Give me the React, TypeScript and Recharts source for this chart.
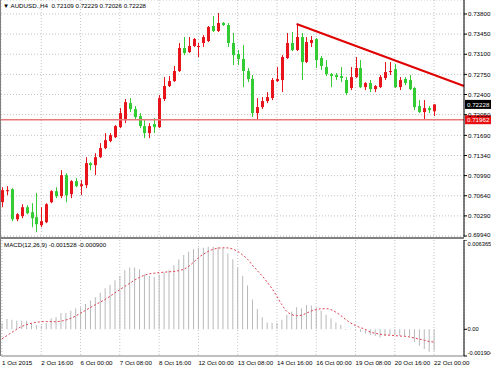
import React from "react";
import { ComposedChart, Bar, Line, XAxis, YAxis, CartesianGrid, ReferenceLine } from "recharts";

const FONT = "'Liberation Sans', Arial, sans-serif";
const RED = "#e8141c";
const GREEN = "#33cc33";

const symbolName = "AUDUSD.,H4";
const timeLabels = [
  "1 Oct 2015", "2 Oct 16:00", "6 Oct 00:00", "7 Oct 08:00", "8 Oct 16:00", "12 Oct 00:00",
  "13 Oct 08:00", "14 Oct 16:00", "16 Oct 00:00", "19 Oct 08:00", "20 Oct 16:00", "22 Oct 00:00",
];

const opens = [
  0.70528, 0.70720, 0.70754, 0.70232, 0.70285, 0.70441, 0.70354, 0.70267, 0.70128, 0.70180,
  0.70528, 0.70720, 0.70633, 0.70998, 0.70667, 0.70894, 0.70807, 0.70824, 0.71207, 0.71172,
  0.71311, 0.71468, 0.71590, 0.71659, 0.71833, 0.71955, 0.72251, 0.72147, 0.72025, 0.71851,
  0.71729, 0.71885, 0.71833, 0.72321, 0.72547, 0.72634, 0.72808, 0.73208, 0.73138, 0.73243,
  0.73225, 0.73295, 0.73330, 0.73591, 0.73504, 0.73643, 0.73608, 0.73295, 0.73103, 0.73017,
  0.72808, 0.72669, 0.72077, 0.72181, 0.72286, 0.72338, 0.72634, 0.72651, 0.73034, 0.73295,
  0.73173, 0.73399, 0.72964, 0.73295, 0.73364, 0.73034, 0.72877, 0.72755, 0.72738, 0.72721,
  0.72651, 0.72512, 0.72703, 0.72860, 0.72529, 0.72599, 0.72494, 0.72529, 0.72686, 0.72790,
  0.72842, 0.72529, 0.72669, 0.72651, 0.72512, 0.72199, 0.72095, 0.72164, 0.72109,
];
const highs = [
  0.70789, 0.70807, 0.70772, 0.70337, 0.70493, 0.70476, 0.70511, 0.70685, 0.70441, 0.70511,
  0.70737, 0.70789, 0.71085, 0.71033, 0.70911, 0.70946, 0.70911, 0.71311, 0.71224, 0.71381,
  0.71555, 0.71729, 0.71729, 0.71868, 0.72164, 0.72321, 0.72338, 0.72199, 0.72077, 0.71955,
  0.71903, 0.71990, 0.72390, 0.72703, 0.72721, 0.72895, 0.73295, 0.73399, 0.73399, 0.73382,
  0.73295, 0.73434, 0.73591, 0.73765, 0.73817, 0.73660, 0.73643, 0.73469, 0.73173, 0.73260,
  0.72860, 0.72738, 0.72338, 0.72355, 0.72442, 0.72686, 0.72877, 0.73086, 0.73469, 0.73486,
  0.73625, 0.73469, 0.73399, 0.73416, 0.73382, 0.73069, 0.72999, 0.72773, 0.72773, 0.72877,
  0.72703, 0.72877, 0.73051, 0.72999, 0.72616, 0.72651, 0.72564, 0.72738, 0.72964, 0.72964,
  0.72929, 0.72703, 0.72703, 0.72738, 0.72529, 0.72303, 0.72303, 0.72199, 0.72229,
];
const lows = [
  0.70441, 0.70650, 0.70198, 0.70198, 0.70250, 0.70319, 0.70093, 0.70006, 0.70093, 0.70163,
  0.70511, 0.70598, 0.70598, 0.70528, 0.70598, 0.70789, 0.70650, 0.70772, 0.71085, 0.70998,
  0.71294, 0.71450, 0.71572, 0.71642, 0.71816, 0.71903, 0.72095, 0.71955, 0.71816, 0.71642,
  0.71642, 0.71729, 0.71816, 0.72286, 0.72529, 0.72616, 0.72790, 0.73086, 0.73121, 0.73225,
  0.73051, 0.73225, 0.73312, 0.73486, 0.73486, 0.73591, 0.73225, 0.72912, 0.72912, 0.72529,
  0.72616, 0.72007, 0.71955, 0.72147, 0.72251, 0.72303, 0.72616, 0.72442, 0.73017, 0.73155,
  0.73155, 0.72651, 0.72947, 0.73225, 0.72860, 0.72825, 0.72721, 0.72529, 0.72651, 0.72616,
  0.72390, 0.72477, 0.72686, 0.72512, 0.72477, 0.72442, 0.72442, 0.72512, 0.72651, 0.72738,
  0.72512, 0.72477, 0.72564, 0.72477, 0.72129, 0.72077, 0.71955, 0.72077, 0.72026,
];
const closes = [
  0.70737, 0.70737, 0.70232, 0.70319, 0.70441, 0.70337, 0.70250, 0.70145, 0.70198, 0.70493,
  0.70720, 0.70633, 0.70998, 0.70650, 0.70894, 0.70807, 0.70841, 0.71207, 0.71172, 0.71311,
  0.71468, 0.71607, 0.71694, 0.71851, 0.72077, 0.72268, 0.72147, 0.72007, 0.71851, 0.71729,
  0.71851, 0.71833, 0.72338, 0.72547, 0.72634, 0.72808, 0.73208, 0.73121, 0.73243, 0.73364,
  0.73243, 0.73399, 0.73573, 0.73504, 0.73643, 0.73608, 0.73295, 0.73086, 0.73017, 0.72808,
  0.72669, 0.72077, 0.72181, 0.72286, 0.72355, 0.72651, 0.72669, 0.73051, 0.73295, 0.73173,
  0.73399, 0.72964, 0.73312, 0.73347, 0.72999, 0.72895, 0.72755, 0.72721, 0.72703, 0.72686,
  0.72425, 0.72703, 0.72860, 0.72529, 0.72599, 0.72494, 0.72547, 0.72703, 0.72790, 0.72808,
  0.72529, 0.72651, 0.72599, 0.72494, 0.72181, 0.72095, 0.72164, 0.72129, 0.72228,
];

const macdMain = [
  0.00045, 0.00073, 0.00068, 0.00061, 0.0006, 0.0006, 0.00045, 0.0003, 0.00025, 0.00045,
  0.00078, 0.00085, 0.00116, 0.00116, 0.00133, 0.0015, 0.00157, 0.00181, 0.00205, 0.00229,
  0.0026, 0.00293, 0.00318, 0.00349, 0.0038, 0.00421, 0.0044, 0.0044, 0.00428, 0.0039,
  0.0038, 0.00372, 0.0039, 0.00404, 0.00421, 0.00457, 0.005, 0.00529, 0.00552, 0.00572,
  0.00581, 0.00581, 0.00588, 0.00588, 0.00588, 0.00577, 0.00541, 0.005, 0.0044, 0.0038,
  0.00313, 0.00212, 0.00145, 0.00085, 0.00049, 0.00045, 0.00045, 0.00068, 0.00104, 0.00126,
  0.00157, 0.0015, 0.00174, 0.00169, 0.00157, 0.00133, 0.00104, 0.00078, 0.00049, 0.0003,
  -0.00005, 0.00003, -0.00005, -0.0002, -0.0003, -0.0004, -0.00047, -0.00059, -0.00047, -0.0004,
  -0.00043, -0.00047, -0.00047, -0.00052, -0.0009, -0.00118, -0.0014, -0.0016, -0.001528,
];
const macdSignal = [
  -0.00068, -0.00045, -0.00022, 0.0, 0.0002, 0.00033, 0.00043, 0.0005, 0.00054, 0.00055,
  0.00055, 0.00054, 0.00058, 0.00066, 0.00078, 0.00095, 0.00115, 0.00135, 0.00155, 0.00175,
  0.00193, 0.00213, 0.00235, 0.0026, 0.00283, 0.00305, 0.00328, 0.0035, 0.0037, 0.00385,
  0.00395, 0.004, 0.00404, 0.00407, 0.0041, 0.00412, 0.00418, 0.00428, 0.00448, 0.00478,
  0.0051, 0.00535, 0.00555, 0.0057, 0.00578, 0.00581, 0.0058, 0.00572, 0.00555, 0.0053,
  0.005, 0.00457, 0.00418, 0.0038, 0.00337, 0.0029, 0.00235, 0.00175, 0.00128, 0.00105,
  0.00097, 0.001, 0.00115, 0.0013, 0.0014, 0.00146, 0.00147, 0.0014, 0.00122, 0.00098,
  0.0007, 0.00045, 0.00027, 0.00012, 0.0, -0.0002, -0.00028, -0.00035, -0.0004, -0.00042,
  -0.00045, -0.00048, -0.0005, -0.00055, -0.00062, -0.0007, -0.00078, -0.00087, -0.0009,
];

const priceTicks = [0.738, 0.7345, 0.731, 0.7275, 0.724, 0.7205, 0.7169, 0.7134, 0.7099, 0.7064, 0.7029, 0.6994];
const priceDomain = [0.69923, 0.74043];
const macdTicks = [0.006365, 0, -0.001904];
const macdDomain = [-0.001904, 0.006365];
const levelPrice = 0.71962;
const trendStart = { bar: 60, price: 0.73625 };
const trendEnd = { bar: 94.1, price: 0.72548 };
const xDomain = [-0.204, 94.1];
const labelEvery = 8;
const xTicks = timeLabels.map((_, k) => k * labelEvery);

const data = opens.map((o, i) => ({
  bar: i,
  o,
  h: highs[i],
  l: lows[i],
  c: closes[i],
  macd: macdMain[i],
  signal: macdSignal[i],
}));

const last = data[data.length - 1];

const Candle = (props: any) => {
  const { x, y, width, height, payload } = props;
  if (x == null || y == null) return null;
  const { o, h, l, c } = payload;
  const top = Math.min(y, y + height);
  const bot = Math.max(y, y + height);
  const span = h - l || 1e-9;
  const py = (p: number) => top + ((h - p) / span) * (bot - top);
  const color = c >= o ? RED : GREEN;
  const cx = Math.round(x + width / 2) + 0.5;
  const bTop = py(Math.max(o, c));
  const bBot = py(Math.min(o, c));
  return (
    <g>
      <line x1={cx} x2={cx} y1={top} y2={bot} stroke={color} strokeWidth={1} />
      <rect x={cx - 1.5} y={bTop} width={3} height={Math.max(bBot - bTop, 1)} fill={color} />
    </g>
  );
};

const PriceTick = (p: any) => {
  const v = Number(p.payload.value);
  const y = v === priceTicks[priceTicks.length - 1] ? p.y - 1 : p.y;
  return (
    <text x={p.x} y={y} dy={2.2} fontSize={6.2} fill="#000" fontFamily={FONT} textAnchor="start">
      {v.toFixed(5)}
    </text>
  );
};

const MacdTick = (p: any) => {
  const v = Number(p.payload.value);
  let y = p.y;
  if (v === macdTicks[0]) y += 4;
  if (v === macdTicks[2]) y -= 3;
  const label = v === 0 ? "0.00" : v.toFixed(6);
  return (
    <text x={p.x - 0.5} y={y} dy={2.1} fontSize={5.7} fill="#000" fontFamily={FONT} textAnchor="start">
      {label}
    </text>
  );
};

const TimeTick = (p: any) => {
  const idx = Math.round(Number(p.payload.value) / labelEvery);
  return (
    <text x={p.x} y={p.y + 1} fontSize={6.2} fill="#000" fontFamily={FONT} textAnchor="start">
      {timeLabels[idx]}
    </text>
  );
};

const PriceBox = (props: any) => {
  const { viewBox, value, bg } = props;
  if (!viewBox) return null;
  const { x, y, width } = viewBox;
  return (
    <g>
      <rect x={x + width + 1} y={y - 4.5} width={27} height={9} fill={bg} />
      <text x={x + width + 3} y={y + 2.2} fontSize={6.2} fill="#fff" fontFamily={FONT}>
        {Number(value).toFixed(5)}
      </text>
    </g>
  );
};

export default function App() {
  return (
    <div
      style={{
        position: "absolute",
        left: 0,
        top: 0,
        width: 491,
        height: 368,
        background: "#fff",
        overflow: "hidden",
        fontFamily: FONT,
      }}
    >
      <div style={{ position: "absolute", left: 0, top: 0 }}>
        <ComposedChart width={491} height={237} data={data} margin={{ top: 0, right: 0, left: 1, bottom: 0 }}>
          <CartesianGrid stroke="#c4c4c4" strokeDasharray="1 2" />
          <XAxis dataKey="bar" type="number" domain={xDomain} ticks={xTicks} allowDataOverflow hide />
          <YAxis
            orientation="right"
            width={27}
            domain={priceDomain}
            ticks={priceTicks}
            interval={0}
            allowDataOverflow
            tick={<PriceTick />}
            tickSize={3}
            tickMargin={1}
            axisLine={{ stroke: "#000" }}
            tickLine={{ stroke: "#000" }}
          />
          <ReferenceLine
            y={levelPrice}
            stroke="#e87878"
            strokeWidth={1.5}
            label={<PriceBox value={levelPrice} bg="#e81010" />}
          />
          <ReferenceLine
            y={last.c}
            stroke="transparent"
            label={<PriceBox value={last.c} bg="#000" />}
          />
          <Bar dataKey={(d: any) => [d.l, d.h]} barSize={3} shape={<Candle />} isAnimationActive={false} />
          <ReferenceLine
            segment={[
              { x: trendStart.bar, y: trendStart.price },
              { x: trendEnd.bar, y: trendEnd.price },
            ]}
            stroke="#e00000"
            strokeWidth={2}
            ifOverflow="visible"
          />
        </ComposedChart>
      </div>
      <div style={{ position: "absolute", left: 0, top: 237, width: 464, height: 2, background: "#808080" }} />
      <div style={{ position: "absolute", left: 0, top: 240 }}>
        <ComposedChart width={491} height={128} data={data} margin={{ top: 0, right: 0, left: 1, bottom: 0 }}>
          <CartesianGrid stroke="#c4c4c4" strokeDasharray="1 2" horizontal={false} />
          <XAxis
            dataKey="bar"
            type="number"
            domain={xDomain}
            ticks={xTicks}
            interval={0}
            allowDataOverflow
            height={12}
            tick={<TimeTick />}
            tickLine={false}
            axisLine={{ stroke: "#808080" }}
          />
          <YAxis
            orientation="right"
            width={27}
            domain={macdDomain}
            ticks={macdTicks}
            interval={0}
            allowDataOverflow
            tick={<MacdTick />}
            tickSize={3}
            tickMargin={1}
            axisLine={{ stroke: "#000" }}
            tickLine={{ stroke: "#000" }}
          />
          <Bar dataKey="macd" barSize={1} fill="#b8b8b8" isAnimationActive={false} />
          <Line
            dataKey="signal"
            type="monotone"
            dot={false}
            stroke="#e04050"
            strokeWidth={1}
            strokeDasharray="2 2"
            isAnimationActive={false}
          />
        </ComposedChart>
      </div>
      <div style={{ position: "absolute", left: 0, top: 0, width: 1, height: 356, background: "#808080" }} />
      <div style={{ position: "absolute", left: 3, top: 2, fontSize: 6.2, lineHeight: "8px", color: "#000", whiteSpace: "pre" }}>
        {"\u25BC " + symbolName + "  " + [last.o, last.h, last.l, last.c].map((v) => v.toFixed(5)).join(" ")}
      </div>
      <div style={{ position: "absolute", left: 4, top: 241, fontSize: 6.2, lineHeight: "8px", color: "#000", whiteSpace: "pre" }}>
        {"MACD(12,26,9) " + macdMain[macdMain.length - 1].toFixed(6) + " " + macdSignal[macdSignal.length - 1].toFixed(6)}
      </div>
    </div>
  );
}
